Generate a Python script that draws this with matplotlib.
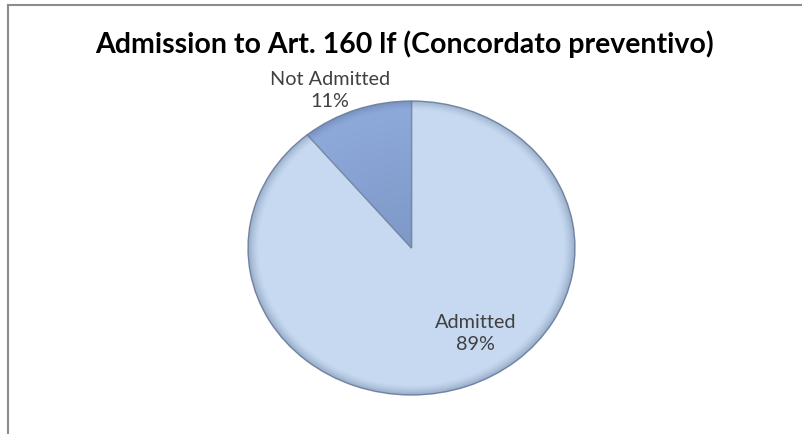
import numpy as np
import matplotlib
matplotlib.use("Agg")
import matplotlib.pyplot as plt
from matplotlib.lines import Line2D

# Admission outcomes for Art. 160 lf (concordato preventivo) applications
categories = ["Admitted", "Not Admitted"]
shares = [89, 11]
slice_colors = ["#c6d9f1", "#8eaadb"]

plt.rcParams["font.family"] = ["Lato", "DejaVu Sans"]

W, H = 803, 434
fig = plt.figure(figsize=(W / 100, H / 100), dpi=100)
fig.patch.set_facecolor("white")

# pixel box of the (slightly squashed) pie, left/right/top/bottom
px_l, px_r, px_t, px_b = 248, 575, 101, 395
lim = 1.03
cx, cy = (px_l + px_r) / 2, (px_t + px_b) / 2
hw, hh = (px_r - px_l) / 2 * lim, (px_b - px_t) / 2 * lim
ax = fig.add_axes([(cx - hw) / W, (H - cy - hh) / H, 2 * hw / W, 2 * hh / H])

wedges, _ = ax.pie(shares, colors=slice_colors, startangle=90, counterclock=False,
                   wedgeprops=dict(edgecolor="#7b8eab", linewidth=1.0))
ax.set_aspect("auto")

# soft bevel shading clipped to each slice
gx, gy = np.meshgrid(np.linspace(-1, 1, 400), np.linspace(-1, 1, 400))
r = np.hypot(gx, gy)
ring = np.clip((r - 0.93) / 0.07, 0, 1) ** 1.5
shade = np.zeros((400, 400, 4))
shade[..., :3] = np.array([70, 90, 125]) / 255
shade[..., 3] = 0.35 * ring
im = ax.imshow(shade, extent=(-1, 1, -1, 1), origin="lower", zorder=3, aspect="auto")
im.set_clip_path(wedges[0])

shade2 = shade.copy()
shade2[..., 3] = np.clip(0.35 * ring + 0.22 * (1 - r), 0, 1)
im2 = ax.imshow(shade2, extent=(-1, 1, -1, 1), origin="lower", zorder=3, aspect="auto")
im2.set_clip_path(wedges[1])
for w in wedges:
    w.set_zorder(2)
ax.set_xlim(-lim, lim)
ax.set_ylim(-lim, lim)
ax.axis("off")

# data labels
label_pos = {"Admitted": (0.39, -0.58), "Not Admitted": (-0.50, 1.07)}
for name, val in zip(categories, shares):
    x, y = label_pos[name]
    ax.text(x, y, f"{name}\n{val}%", ha="center", va="center", fontsize=14.3,
            color="#404040", linespacing=1.35, zorder=5, clip_on=False)

fig.text(404 / W, 1 - 44 / H, "Admission to Art. 160 lf (Concordato preventivo)",
         ha="center", va="center", fontsize=20.5, fontweight="bold", color="black")

# chart frame (top and left edges visible)
fig.add_artist(Line2D([8 / W, 1], [1 - 5 / H, 1 - 5 / H], color="#8c8c8c", lw=1.5))
fig.add_artist(Line2D([8 / W, 8 / W], [0, 1 - 5 / H], color="#8c8c8c", lw=1.5))

fig.savefig("out.png", dpi=100)
